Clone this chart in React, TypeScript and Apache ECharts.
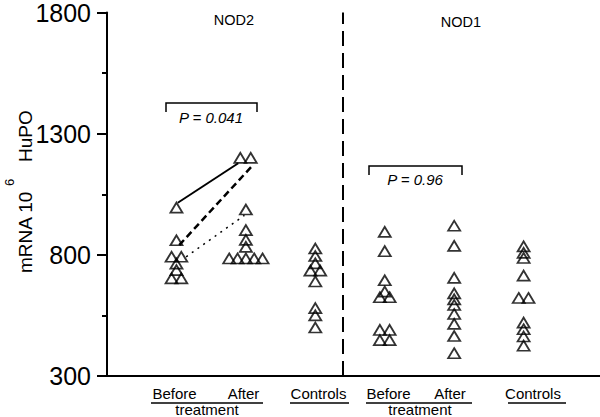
import React, { useEffect, useRef } from "react";
import * as echarts from "echarts";

// ---- data ----
const yTicks = [300, 800, 1300, 1800];
const groupLabels = ["Before", "After", "Controls", "Before", "After", "Controls"];
const panelTitles = ["NOD2", "NOD1"];
const pValues = ["P = 0.041", "P = 0.96"];
const yAxisName = ["mRNA 10", "6", "HuPO"];
const subLabel = "treatment";

const nod2Before = [
  [1, 995], [1, 860], [0.93, 792], [1.07, 792], [1, 764], [1, 737], [0.93, 703], [1.07, 703],
];
const nod2After = [
  [1.92, 1200], [2.07, 1200], [2, 987], [2, 902], [2, 862], [2, 833],
  [1.76, 785], [1.88, 785], [2, 785], [2.12, 785], [2.24, 785],
];
const nod2Controls = [
  [3, 826], [3, 795], [3, 765], [2.93, 735], [3.07, 735], [3, 690], [3, 580], [3, 550], [3, 500],
];
const nod1Before = [
  [4, 895], [4, 815], [4, 695], [4, 648], [3.93, 625], [4.07, 625],
  [3.93, 490], [4.07, 490], [3.93, 448], [4.07, 448],
];
const nod1After = [
  [5, 920], [5, 837], [5, 705], [5, 641], [5, 616], [5, 593], [5, 556], [5, 515], [5, 465], [5, 394],
];
const nod1Controls = [
  [6, 835], [6, 808], [6, 787], [6, 714], [5.93, 622], [6.07, 622], [6, 520], [6, 493], [6, 463], [6, 425],
];
const pairSolid = [[1.02, 1015], [1.89, 1178]];
const pairDashed = [[1.04, 840], [2.1, 1170]];
const pairDotted = [[1.14, 792], [1.98, 963]];
const dividerX = 3.4;

const FONT = "'Liberation Sans', Arial, Helvetica, sans-serif";

function txt(text: string, x: number, y: number, size: number, extra: any = {}) {
  return {
    type: "text",
    x,
    y,
    silent: true,
    ...extra,
    style: {
      text,
      fontSize: size,
      fontFamily: FONT,
      fontStyle: extra.italic ? "italic" : "normal",
      fill: "#000",
      align: extra.align || "center",
      verticalAlign: "middle",
      textAlign: extra.align || "center",
      textVerticalAlign: "middle",
    },
  };
}

function hline(x1: number, x2: number, y: number, w = 1.5) {
  return {
    type: "line",
    silent: true,
    shape: { x1, y1: y, x2, y2: y },
    style: { stroke: "#000", lineWidth: w },
  };
}

function bracket(x1: number, x2: number, y: number, drop: number) {
  return {
    type: "polyline",
    silent: true,
    shape: { points: [[x1, y + drop], [x1, y], [x2, y], [x2, y + drop]] },
    style: { stroke: "#000", lineWidth: 1.5, fill: "none" },
  };
}

const triStyle = {
  color: "rgba(0,0,0,0)",
  borderColor: "#000",
  borderWidth: 1.8,
};

function scatter(data: number[][], extra: any = {}) {
  return {
    type: "scatter",
    symbol: "triangle",
    symbolSize: [12, 10],
    itemStyle: triStyle,
    data,
    z: 3,
    ...extra,
  };
}

function pairLine(data: number[][], type: any, width: number) {
  return {
    type: "line",
    data,
    symbol: "none",
    lineStyle: { color: "#000", width, type },
    z: 2,
  };
}

export default function App() {
  const ref = useRef<HTMLDivElement>(null);
  useEffect(() => {
    if (!ref.current) return;
    const chart = echarts.init(ref.current, undefined, { renderer: "svg" });
    const graphic: any[] = [
      // y-axis name (rotated)
      txt(yAxisName[0], 25, 273, 19, { rotation: Math.PI / 2, align: "left" }),
      txt(yAxisName[1], 9, 186, 13, { rotation: Math.PI / 2, align: "left" }),
      txt(yAxisName[2], 25, 162, 19, { rotation: Math.PI / 2, align: "left" }),
      // panel titles
      txt(panelTitles[0], 234, 20, 14.5),
      txt(panelTitles[1], 461, 22, 14.5),
      // brackets and p values
      bracket(166, 257, 103, 9),
      txt(pValues[0], 211, 117, 15, { italic: true }),
      bracket(369, 462, 166, 9),
      txt(pValues[1], 415, 179, 15, { italic: true }),
      // x labels
      txt(groupLabels[0], 174.5, 393, 15),
      txt(groupLabels[1], 243.5, 393, 15),
      txt(groupLabels[2], 318.5, 393, 15),
      txt(groupLabels[3], 388.5, 393, 15),
      txt(groupLabels[4], 450, 393, 15),
      txt(groupLabels[5], 533, 393, 15),
      hline(151, 263, 403),
      hline(290, 349, 403),
      hline(366, 472, 403),
      hline(508, 566, 403),
      txt(subLabel, 207, 409, 15),
      txt(subLabel, 420, 409, 15),
    ];
    chart.setOption({
      animation: false,
      grid: { left: 107, right: 0, top: 12, bottom: 41 },
      xAxis: {
        type: "value",
        min: 0,
        max: 7.1,
        axisLine: { show: true, lineStyle: { color: "#000", width: 2 } },
        axisTick: { show: false },
        axisLabel: { show: false },
        splitLine: { show: false },
      },
      yAxis: {
        type: "value",
        min: yTicks[0],
        max: yTicks[yTicks.length - 1],
        interval: yTicks[1] - yTicks[0],
        axisLine: { show: true, lineStyle: { color: "#000", width: 2 } },
        axisTick: { show: true, length: 10, lineStyle: { color: "#000", width: 2 } },
        minorTick: { show: true, splitNumber: 2, length: 5, lineStyle: { color: "#000", width: 2 } },
        axisLabel: {
          fontSize: 25,
          color: "#000",
          margin: 16,
          fontFamily: FONT,
          showMinLabel: true,
          showMaxLabel: true,
          formatter: (v: number) => String(v),
        },
        splitLine: { show: false },
        minorSplitLine: { show: false },
      },
      series: [
        pairLine(pairSolid, "solid", 2),
        pairLine(pairDashed, [7, 4], 2.5),
        pairLine(pairDotted, [2, 5], 1.5),
        scatter(nod2Before, {
          markLine: {
            silent: true,
            symbol: "none",
            label: { show: false },
            lineStyle: { color: "#000", width: 2, type: [15, 7] },
            data: [{ xAxis: dividerX }],
          },
        }),
        scatter(nod2After),
        scatter(nod2Controls),
        scatter(nod1Before),
        scatter(nod1After),
        scatter(nod1Controls),
      ],
      graphic,
    });
    return () => chart.dispose();
  }, []);
  return (
    <div
      ref={ref}
      style={{ position: "fixed", left: 0, top: 0, width: 600, height: 417, background: "#fff" }}
    />
  );
}
